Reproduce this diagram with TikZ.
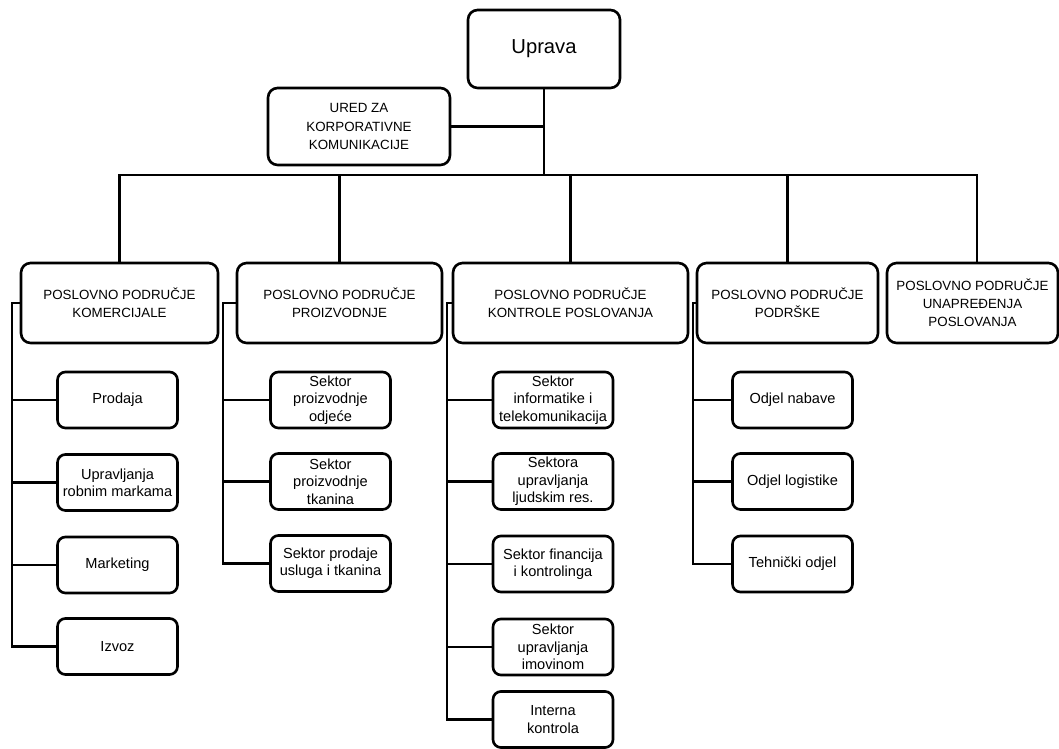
\documentclass[tikz,border=0pt]{standalone}
\usepackage{fontspec}
\setmainfont{Liberation Sans}
\begin{document}
\begin{tikzpicture}[x=0.02cm, y=-0.02cm, line width=1.5pt,
  box/.style={draw, rounded corners=5.5pt, align=center, inner sep=0pt},
  topbox/.style={box, minimum width=3.04cm, minimum height=1.56cm, font=\fontsize{11.5}{13}\selectfont},
  areabox/.style={box, minimum height=1.6cm, font=\fontsize{7.6}{10.3}\selectfont},
  unitbox/.style={box, rounded corners=4.5pt, minimum width=2.4cm, minimum height=1.12cm, font=\fontsize{8.3}{9.9}\selectfont}]
\useasboundingbox (0,0) rectangle (1059,749);

\node[topbox, anchor=center] (uprava) at (544, 49) {Uprava};
\node[areabox, anchor=center, minimum width=3.64cm, minimum height=1.54cm] (ured) at (359, 126.5) {URED ZA\\KORPORATIVNE\\KOMUNIKACIJE};
\coordinate (bus) at (544, 175);

\node[areabox, anchor=center, minimum width=3.94cm] (kom) at (119.5, 303) {POSLOVNO PODRUČJE\\KOMERCIJALE};
\node[areabox, anchor=center, minimum width=4.1cm] (pro) at (339.5, 303) {POSLOVNO PODRUČJE\\PROIZVODNJE};
\node[areabox, anchor=center, minimum width=4.7cm] (kon) at (570.5, 303) {POSLOVNO PODRUČJE\\KONTROLE POSLOVANJA};
\node[areabox, anchor=center, minimum width=3.62cm] (pod) at (787.5, 303) {POSLOVNO PODRUČJE\\PODRŠKE};
\node[areabox, anchor=center, minimum width=3.42cm] (una) at (972.5, 303) {POSLOVNO PODRUČJE\\UNAPREĐENJA\\POSLOVANJA};

\node[unitbox, anchor=center] (prodaja) at (117.5, 400) {Prodaja};
\node[unitbox, anchor=center] (robne) at (117.5, 482.5) {Upravljanja\\robnim markama};
\node[unitbox, anchor=center] (marketing) at (117.5, 565) {Marketing};
\node[unitbox, anchor=center] (izvoz) at (117.5, 646.5) {Izvoz};

\node[unitbox, anchor=center] (odjeca) at (330.5, 400) {Sektor\\proizvodnje\\odjeće};
\node[unitbox, anchor=center] (tkanine) at (330.5, 481.5) {Sektor\\proizvodnje\\tkanina};
\node[unitbox, anchor=center] (usluge) at (330.5, 563.5) {Sektor prodaje\\usluga i tkanina};

\node[unitbox, anchor=center] (informatika) at (553, 400) {Sektor\\informatike i\\telekomunikacija};
\node[unitbox, anchor=center] (ljudi) at (553, 481.5) {Sektora\\upravljanja\\ljudskim res.};
\node[unitbox, anchor=center] (financije) at (553, 564) {Sektor financija\\i kontrolinga};
\node[unitbox, anchor=center] (imovina) at (553, 647) {Sektor\\upravljanja\\imovinom};
\node[unitbox, anchor=center] (interna) at (553, 719.5) {Interna\\kontrola};

\node[unitbox, anchor=center] (nabava) at (792.5, 400) {Odjel nabave};
\node[unitbox, anchor=center] (logistika) at (792.5, 481.5) {Odjel logistike};
\node[unitbox, anchor=center] (tehnicki) at (792.5, 564) {Tehnički odjel};

\draw (uprava.south) -- (bus);
\draw (ured.east) -- (ured.east -| uprava.south);
\draw (kom.north) |- (bus) -| ([xshift=0.09cm]una.north);
\draw (pro.north) -- (pro.north |- bus);
\draw (kon.north) -- (kon.north |- bus);
\draw (pod.north) -- (pod.north |- bus);

\coordinate (s1) at (12, 303);
\coordinate (s2) at (223, 303);
\coordinate (s3) at (447, 303);
\coordinate (s4) at (693, 303);

\draw (kom.west) -- (s1) |- (izvoz.west);
\draw (s1 |- prodaja.west) -- (prodaja.west);
\draw (s1 |- robne.west) -- (robne.west);
\draw (s1 |- marketing.west) -- (marketing.west);

\draw (pro.west) -- (s2) |- (usluge.west);
\draw (s2 |- odjeca.west) -- (odjeca.west);
\draw (s2 |- tkanine.west) -- (tkanine.west);

\draw (kon.west) -- (s3) |- (interna.west);
\draw (s3 |- informatika.west) -- (informatika.west);
\draw (s3 |- ljudi.west) -- (ljudi.west);
\draw (s3 |- financije.west) -- (financije.west);
\draw (s3 |- imovina.west) -- (imovina.west);

\draw (pod.west) -- (s4) |- (tehnicki.west);
\draw (s4 |- nabava.west) -- (nabava.west);
\draw (s4 |- logistika.west) -- (logistika.west);
\end{tikzpicture}
\end{document}
